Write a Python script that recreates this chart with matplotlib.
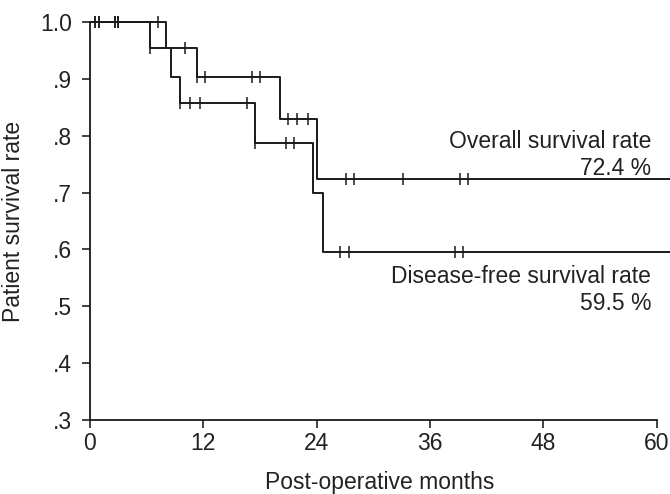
import matplotlib
matplotlib.use("Agg")
import matplotlib.pyplot as plt

plt.rcParams['font.family'] = ['Liberation Sans', 'DejaVu Sans']

# overall survival: step times (months) and survival after each step
os_times = [0, 8.1, 11.3, 20.1, 24.0]
os_surv = [1.0, 0.955, 0.904, 0.829, 0.724]
os_cens_t = [0.5, 1.0, 2.6, 3.0, 7.2, 10.1, 11.3, 12.2, 17.1, 18.0,
             21.0, 21.9, 23.1, 27.1, 27.9, 33.1, 39.2, 40.0]
os_cens_s = [1.0, 1.0, 1.0, 1.0, 1.0, 0.955, 0.904, 0.904, 0.904, 0.904,
             0.829, 0.829, 0.829, 0.724, 0.724, 0.724, 0.724, 0.724]

# disease-free survival
dfs_times = [0, 6.35, 8.6, 9.5, 17.5, 23.6, 24.7]
dfs_surv = [1.0, 0.955, 0.904, 0.858, 0.788, 0.699, 0.595]
dfs_cens_t = [0.5, 1.0, 2.6, 3.0, 6.35, 9.5, 10.6, 11.6, 16.6,
              17.5, 20.7, 21.6, 26.5, 27.4, 38.6, 39.5]
dfs_cens_s = [1.0, 1.0, 1.0, 1.0, 0.955, 0.858, 0.858, 0.858, 0.858,
              0.788, 0.788, 0.788, 0.595, 0.595, 0.595, 0.595]

x_end = 61.4
xticks = [0, 12, 24, 36, 48, 60]
yticks = [0.3, 0.4, 0.5, 0.6, 0.7, 0.8, 0.9, 1.0]
ylabels = ['.3', '.4', '.5', '.6', '.7', '.8', '.9', '1.0']

fs = 16.5
fig = plt.figure(figsize=(6.7, 4.94), dpi=100)
ax = fig.add_axes([0.1343, 0.1508, 0.8657, 0.8037])

col = '#1a1a1a'
ax.step(os_times + [x_end], os_surv + [os_surv[-1]], where='post', color=col, lw=1.4, clip_on=False)
ax.step(dfs_times + [x_end], dfs_surv + [dfs_surv[-1]], where='post', color=col, lw=1.4, clip_on=False)
ax.plot(os_cens_t, os_cens_s, ls='none', marker='|', ms=9, mew=1.1, color=col, clip_on=False)
ax.plot(dfs_cens_t, dfs_cens_s, ls='none', marker='|', ms=9, mew=1.1, color=col, clip_on=False)

ax.text(59.4, 0.778, 'Overall survival rate', ha='right', va='baseline', fontsize=fs, color='#222')
ax.text(59.4, 0.731, '72.4 %', ha='right', va='baseline', fontsize=fs, color='#222')
ax.text(59.4, 0.540, 'Disease-free survival rate', ha='right', va='baseline', fontsize=fs, color='#222')
ax.text(59.4, 0.493, '59.5 %', ha='right', va='baseline', fontsize=fs, color='#222')

ax.set_xlim(0, x_end)
ax.set_ylim(0.3, 1.0)
ax.set_xticks(xticks)
ax.set_yticks(yticks)
ax.set_yticklabels(ylabels)
ax.spines['top'].set_visible(False)
ax.spines['right'].set_visible(False)
ax.spines['bottom'].set_bounds(0, 60)
for s in ['left', 'bottom']:
    ax.spines[s].set_linewidth(1.3)
    ax.spines[s].set_color(col)
ax.tick_params(direction='out', length=6, width=1.2, labelsize=fs, colors='#222')
ax.tick_params(axis='x', pad=3)
ax.tick_params(axis='y', pad=7)

ax.set_xlabel('Post-operative months', fontsize=fs, labelpad=11.5, color='#222')
ax.set_ylabel('Patient survival rate', fontsize=fs, labelpad=11, color='#222')

fig.savefig('out.png', dpi=100)
